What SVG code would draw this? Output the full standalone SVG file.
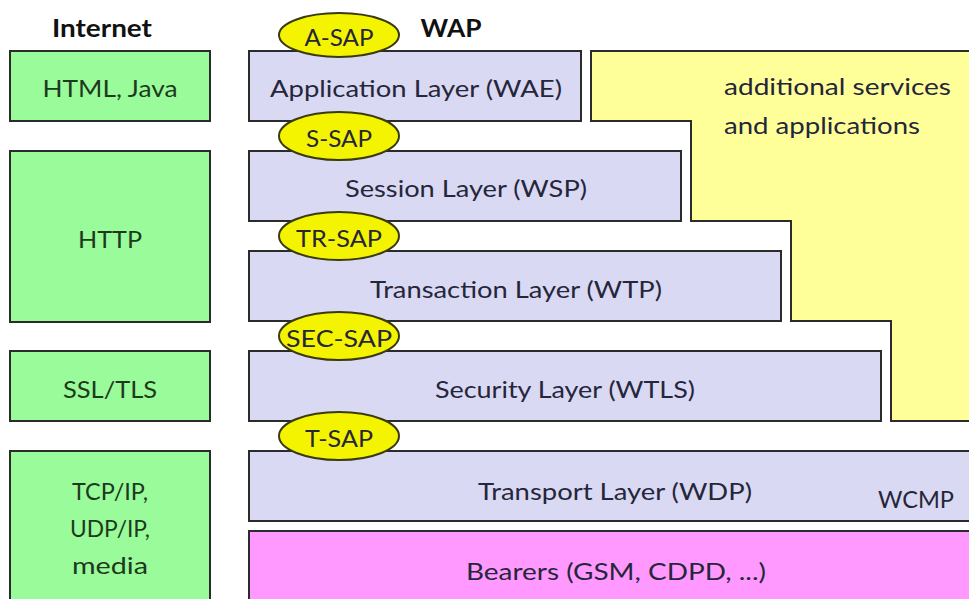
<svg xmlns="http://www.w3.org/2000/svg" width="969" height="599" viewBox="0 0 969 599">
  <style>
    .box { stroke: #2b2b2b; stroke-width: 2; }
    .inet { fill: #99fb99; }
    .wap { fill: #d9d9f4; }
    .extra { fill: #ffff99; }
    .bearer { fill: #ff99ff; }
    .sap { fill: #f4f400; stroke: #3a3a10; stroke-width: 2; }
    text { font-family: Lato, "Open Sans", "Liberation Sans", sans-serif; font-size: 24px; fill: #26263a; text-anchor: middle; dominant-baseline: central; }
    .inet-t { fill: #1d3a1d; }
    .head { font-weight: bold; fill: #111; }
    .left { text-anchor: start; }
  </style>

  <rect width="969" height="599" fill="#ffffff"/>

  <!-- column headings -->
  <text class="head" x="102" y="27" textLength="100" lengthAdjust="spacingAndGlyphs">Internet</text>
  <text class="head" x="451" y="27" textLength="61" lengthAdjust="spacingAndGlyphs">WAP</text>

  <!-- Internet protocol stack -->
  <g id="html-java">
    <rect class="box inet" x="10" y="51" width="200" height="70"/>
    <text class="inet-t" x="110" y="87" textLength="135" lengthAdjust="spacingAndGlyphs">HTML, Java</text>
  </g>
  <g id="http">
    <rect class="box inet" x="10" y="151" width="200" height="171"/>
    <text class="inet-t" x="110" y="238" textLength="64" lengthAdjust="spacingAndGlyphs">HTTP</text>
  </g>
  <g id="ssl-tls">
    <rect class="box inet" x="10" y="351" width="200" height="70"/>
    <text class="inet-t" x="110" y="388" textLength="94" lengthAdjust="spacingAndGlyphs">SSL/TLS</text>
  </g>
  <g id="tcp-ip">
    <rect class="box inet" x="10" y="451" width="200" height="160"/>
    <text class="inet-t" x="110" y="490" textLength="76" lengthAdjust="spacingAndGlyphs">TCP/IP,</text>
    <text class="inet-t" x="110" y="527" textLength="80" lengthAdjust="spacingAndGlyphs">UDP/IP,</text>
    <text class="inet-t" x="110" y="564" textLength="76" lengthAdjust="spacingAndGlyphs">media</text>
  </g>

  <!-- stepped area for additional services -->
  <g id="additional-services">
    <polygon class="box extra" points="591,51 980,51 980,421 891,421 891,321 791,321 791,221 691,221 691,121 591,121"/>
    <text class="left" x="724" y="85" textLength="227" lengthAdjust="spacingAndGlyphs">additional services</text>
    <text class="left" x="724" y="124" textLength="196" lengthAdjust="spacingAndGlyphs">and applications</text>
  </g>

  <!-- WAP protocol stack -->
  <g id="wae">
    <rect class="box wap" x="249" y="51" width="332" height="70"/>
    <text x="416" y="87" textLength="292" lengthAdjust="spacingAndGlyphs">Application Layer (WAE)</text>
  </g>
  <g id="wsp">
    <rect class="box wap" x="249" y="151" width="432" height="70"/>
    <text x="466" y="187" textLength="242" lengthAdjust="spacingAndGlyphs">Session Layer (WSP)</text>
  </g>
  <g id="wtp">
    <rect class="box wap" x="249" y="251" width="532" height="70"/>
    <text x="516" y="288" textLength="292" lengthAdjust="spacingAndGlyphs">Transaction Layer (WTP)</text>
  </g>
  <g id="wtls">
    <rect class="box wap" x="249" y="351" width="632" height="70"/>
    <text x="565" y="388" textLength="260" lengthAdjust="spacingAndGlyphs">Security Layer (WTLS)</text>
  </g>
  <g id="wdp">
    <rect class="box wap" x="249" y="451" width="740" height="70"/>
    <text x="615" y="490" textLength="274" lengthAdjust="spacingAndGlyphs">Transport Layer (WDP)</text>
    <text x="916" y="498" textLength="76" lengthAdjust="spacingAndGlyphs">WCMP</text>
  </g>
  <g id="bearers">
    <rect class="box bearer" x="249" y="531" width="740" height="80"/>
    <text x="616" y="570" textLength="300" lengthAdjust="spacingAndGlyphs">Bearers  (GSM, CDPD, ...)</text>
  </g>

  <!-- service access points -->
  <g id="a-sap">
    <ellipse class="sap" cx="339" cy="35" rx="60" ry="22"/>
    <text x="339" y="36" textLength="69" lengthAdjust="spacingAndGlyphs">A-SAP</text>
  </g>
  <g id="s-sap">
    <ellipse class="sap" cx="339" cy="136" rx="60" ry="24"/>
    <text x="339" y="137" textLength="66" lengthAdjust="spacingAndGlyphs">S-SAP</text>
  </g>
  <g id="tr-sap">
    <ellipse class="sap" cx="339" cy="236" rx="60" ry="24"/>
    <text x="339" y="237" textLength="86" lengthAdjust="spacingAndGlyphs">TR-SAP</text>
  </g>
  <g id="sec-sap">
    <ellipse class="sap" cx="339" cy="336" rx="60" ry="24"/>
    <text x="339" y="337" textLength="106" lengthAdjust="spacingAndGlyphs">SEC-SAP</text>
  </g>
  <g id="t-sap">
    <ellipse class="sap" cx="339" cy="436" rx="60" ry="24"/>
    <text x="339" y="437" textLength="68" lengthAdjust="spacingAndGlyphs">T-SAP</text>
  </g>
</svg>
